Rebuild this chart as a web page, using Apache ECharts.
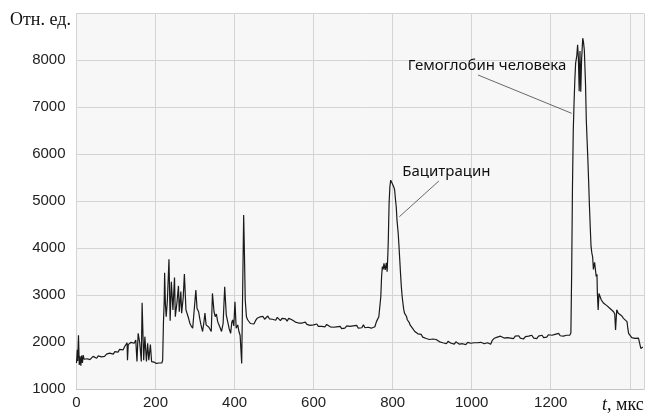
<!DOCTYPE html>
<html><head><meta charset="utf-8">
<script src="https://cdn.jsdelivr.net/npm/echarts@6/dist/echarts.min.js"></script>
<style>html,body{margin:0;padding:0;background:#fff}#c{width:647px;height:413px}</style>
</head><body><div id="c"></div>
<script>
// time (мкс), signal (отн. ед.)
const segA = [[0,1560],[2,1840],[3,1600],[5,2150],[7,1520],[9,1700],[11,1500],[13,1720],[15,1560],[17,1730],[19,1640],[21,1620],[24,1680],[27,1650],[30,1610],[34,1630],[38,1660],[42,1700],[46,1670],[51,1660],[55,1710],[59,1730],[63,1690],[67,1720],[71,1700],[76,1750],[80,1730],[84,1770],[89,1780],[93,1750],[97,1800],[101,1820],[105,1790],[109,1850],[114,1860],[118,1840],[122,1910],[125,1880],[128,1990],[129,1620],[131,1950],[133,1940],[138,2000],[143,2010],[146,1980],[150,2050],[153,1590],[156,2190],[160,1990],[164,1590],[166,2840],[170,1620],[173,2120],[177,1590],[180,1980],[183,1620],[187,1950],[190,1590],[193,1620],[196,1580],[198,1570],[202,1550],[206,1540],[209,1560],[212,1590],[214,1570],[216,1560]];
const segB = [[218,1620],[220,2410],[222,2900],[223,3480],[225,2800],[227,2545],[230,2900],[234,3767],[237,2460],[240,3290],[244,2690],[248,3380],[250,2545],[254,2830],[258,3200],[260,2650],[264,3080],[266,2620],[270,2950],[273,3450],[277,2690],[281,2580],[284,2500],[287,2400],[290,2350],[294,2300],[298,2260],[302,3110],[305,2720],[309,2650],[312,2500],[315,2370],[319,2230],[322,2400],[325,2620],[328,2370],[332,2400],[335,2320],[338,2300],[341,2230],[344,3040],[348,2650],[351,2545],[354,2600],[357,2450],[359,2400],[364,2300],[367,2230],[371,2400],[375,3180],[379,2580],[382,2460],[386,2300],[390,2190],[393,2430],[395,2475],[398,2350],[401,2860],[404,2300],[408,2370],[411,2230],[414,2150],[416,2120],[418,1550],[421,1540],[423,4710],[425,3860],[427,2900],[430,2545]];
const segC = [[433,2480],[436,2440],[440,2400],[445,2370],[449,2390],[453,2460],[457,2510],[460,2480],[464,2540],[468,2500],[472,2550],[476,2490],[480,2530],[484,2560],[488,2500],[492,2540],[496,2490],[500,2520],[504,2470],[508,2530],[512,2500],[516,2460],[520,2510],[524,2480],[529,2500],[533,2450],[537,2510],[541,2550],[545,2480],[549,2460],[554,2430],[558,2450],[562,2410],[566,2440],[571,2410],[575,2390],[579,2430],[583,2380],[587,2400],[591,2360],[595,2390],[600,2370],[604,2350],[608,2390],[612,2340],[617,2370],[621,2340],[625,2360],[629,2330],[633,2380],[638,2350],[642,2330],[646,2370],[650,2320],[654,2360],[658,2330],[662,2310],[667,2340],[671,2290],[675,2330],[679,2300],[684,2350],[688,2310],[692,2340],[696,2300],[700,2350],[705,2320],[709,2360],[713,2300],[717,2340],[722,2310],[726,2370],[730,2310],[734,2340],[738,2320],[742,2350],[746,2300],[751,2310],[755,2330],[759,2440],[762,2400],[765,2545]];
const segD = [[768,2800],[770,2970],[772,3400],[774,3610],[776,3550],[778,3680],[781,3540],[784,3690],[786,3500],[788,3900],[789,4180],[791,4960],[793,5310],[795,5450],[797,5490],[799,5380],[801,5420],[803,5300],[805,5240],[807,5050],[809,4890],[811,4600],[814,4320],[816,4050],[818,3750],[820,3450],[822,3180],[824,2980],[826,2830],[828,2700],[830,2620],[832,2650],[835,2550],[837,2480],[839,2440],[842,2420],[844,2370],[847,2330],[850,2300],[853,2260],[856,2230],[860,2200],[864,2180],[868,2150],[872,2170],[876,2110],[881,2120],[885,2080],[889,2100],[893,2060],[898,2050],[902,2070],[906,2030],[910,2060],[915,2050],[919,2010],[923,2040],[927,1990],[931,2010],[936,1970],[940,2020],[944,1980],[948,1980],[952,2000],[956,1960],[960,2010],[965,1990],[969,1960],[973,2000],[977,1970],[981,1990],[985,1950],[990,2000],[994,1970],[998,1980],[1002,1940],[1006,1990],[1011,1960],[1015,1990],[1019,1950],[1023,2000],[1027,1960],[1032,1970],[1036,1930],[1040,1990],[1044,2000],[1048,1960],[1052,2040],[1057,2085],[1061,2050],[1065,2110],[1069,2070],[1073,2130],[1078,2155],[1082,2090],[1086,2120]];
const segE = [[1090,2100],[1094,2140],[1098,2090],[1102,2120],[1106,2080],[1110,2130],[1115,2100],[1119,2140],[1123,2090],[1127,2110],[1131,2070],[1136,2120],[1140,2090],[1144,2130],[1148,2100],[1152,2150],[1157,2090],[1161,2120],[1165,2080],[1169,2130],[1173,2110],[1178,2150],[1182,2100],[1186,2140],[1190,2110],[1194,2160],[1199,2120],[1203,2150],[1207,2110],[1211,2170],[1215,2130],[1220,2190],[1224,2140],[1228,2160],[1232,2130],[1236,2170],[1240,2150],[1244,2160],[1248,2150]];
const segF = [[1251,2200],[1253,3500],[1255,5300],[1257,6500],[1259,7090],[1261,7580],[1263,7940],[1266,8100],[1268,8330],[1270,8050],[1272,7340],[1274,8200],[1276,7330],[1278,8000],[1281,8470],[1283,8380],[1285,8220],[1288,7500],[1290,6730],[1292,6300],[1294,5880],[1296,5400],[1298,4890],[1300,4450],[1302,4040],[1304,3900],[1306,3820],[1308,3550],[1309,3610],[1311,3700],[1313,3680],[1315,3400],[1317,3450],[1318,3050],[1320,2690],[1322,3040],[1325,2970],[1328,2900],[1331,2860],[1334,2830],[1338,2800],[1342,2780],[1346,2760],[1350,2720],[1355,2700],[1359,2650],[1362,2600],[1364,2260],[1367,2690],[1371,2620],[1376,2650],[1380,2560],[1384,2510],[1388,2470],[1393,2440],[1395,2300],[1397,2190],[1401,2150],[1405,2100],[1409,2080],[1413,2085],[1418,2050],[1422,2090],[1426,2060],[1428,1870],[1430,1880],[1433,1900]];
const xTickLabels = [0,200,400,600,800,1000,1200];
const yTickLabels = [1000,2000,3000,4000,5000,6000,7000,8000];
const peakLabels = ['Бацитрацин','Гемоглобин человека'];

const signal = [].concat(segA, segB, segC, segD, segE, segF);
const chart = echarts.init(document.getElementById('c'), null, {renderer:'canvas'});
const gridCol = '#d4d4d4';
chart.setOption({
  animation:false,
  grid:{left:76.5, right:0, top:13.3, bottom:23.7, show:true, backgroundColor:'#f7f7f7', borderWidth:0},
  xAxis:{type:'value', min:0, max:1436, interval:200,
    axisLine:{show:true, lineStyle:{color:'#c4c4c4'}}, axisTick:{show:false},
    splitLine:{show:true, lineStyle:{color:gridCol, width:1}},
    axisLabel:{formatter:v => xTickLabels.includes(v) ? String(v) : '', fontFamily:'Liberation Sans', fontSize:15, color:'#222', margin:6}},
  yAxis:{type:'value', min:1000, max:9000, interval:1000,
    axisLine:{show:true, lineStyle:{color:gridCol}}, axisTick:{show:false},
    splitLine:{show:true, lineStyle:{color:gridCol, width:1}},
    axisLabel:{formatter:v => yTickLabels.includes(v) ? String(v) : '', fontFamily:'Liberation Sans', fontSize:15, color:'#222', margin:11}},
  series:[{type:'line', data:signal, symbol:'none', lineStyle:{color:'#1a1a1a', width:1.2}, z:3,
    markLine:{silent:true, symbol:['none','none'], label:{show:false},
      lineStyle:{type:'solid', color:'#444', width:0.8},
      data:[[{coord:[917,5432]},{coord:[817,4672]}],[{coord:[1016,7687]},{coord:[1253,6872]}]]},
    markPoint:{silent:true, symbol:'circle', symbolSize:1, itemStyle:{color:'rgba(0,0,0,0)'},
      label:{show:true, position:'inside', formatter:'{b}', fontFamily:'Noto Sans', fontSize:15, color:'#111'},
      data:[{name:peakLabels[0], coord:[936,5634]},{name:peakLabels[1], coord:[1039,7885]}]}
  }],
  graphic:[
    {type:'text', left:10, top:11, style:{text:'Отн. ед.', font:'18px "Liberation Serif"', fill:'#111'}},
    {type:'text', left:602, top:396, style:{text:'{i|t}, мкс', font:'18px "Liberation Serif"', fill:'#111', rich:{i:{fontStyle:'italic', font:'italic 18px "Liberation Serif"'}}}}
  ]
});
</script></body></html>
